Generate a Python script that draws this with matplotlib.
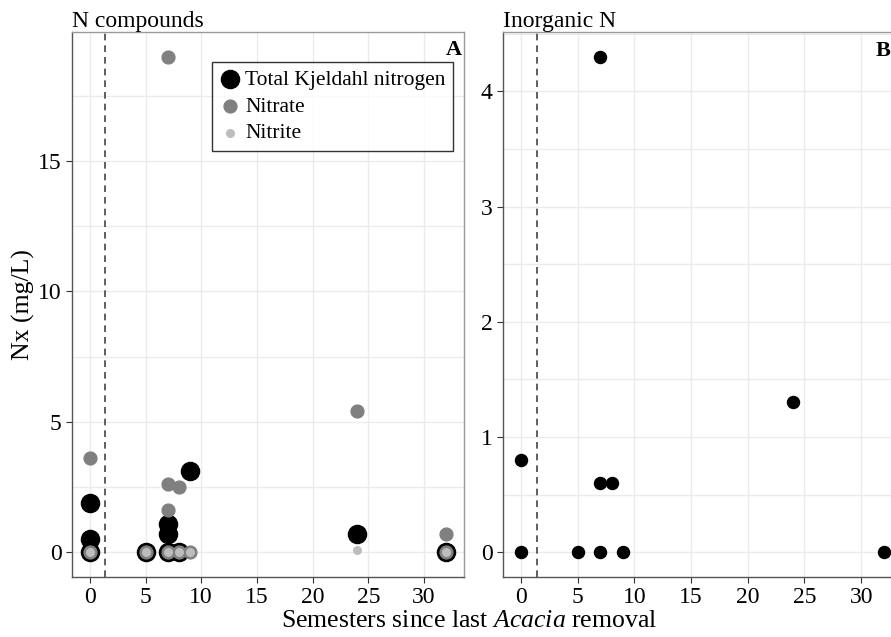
import matplotlib
matplotlib.use("Agg")
import matplotlib.pyplot as plt
from matplotlib.ticker import MultipleLocator

plt.rcParams['font.family'] = ['Liberation Serif', 'DejaVu Serif']
plt.rcParams['mathtext.fontset'] = 'custom'
plt.rcParams['mathtext.rm'] = 'Liberation Serif'
plt.rcParams['mathtext.it'] = 'Liberation Serif:italic'

# panel A: N compounds (x = semesters, y = mg/L)
tkn_x = [0, 0, 0, 5, 7, 7, 7, 8, 9, 24, 32]
tkn_y = [1.9, 0.5, 0, 0, 1.1, 0.7, 0, 0, 3.1, 0.7, 0]
nitrate_x = [0, 0, 5, 7, 7, 7, 7, 8, 8, 9, 24, 32, 32]
nitrate_y = [3.6, 0, 0, 19.0, 2.6, 1.6, 0, 2.5, 0, 0, 5.4, 0.7, 0]
nitrite_x = [0, 5, 7, 8, 9, 24, 32]
nitrite_y = [0, 0, 0, 0, 0, 0.1, 0]

# panel B: inorganic N
inorg_x = [0, 0, 5, 7, 7, 7, 8, 9, 24, 32]
inorg_y = [0.8, 0, 0, 4.3, 0.6, 0, 0.6, 0, 1.3, 0]

removal_line = 1.4


def style_panel(ax):
    ax.set_facecolor('white')
    ax.grid(True, which='both', color='#ebebeb', linewidth=1.0, zorder=0)
    ax.set_axisbelow(True)
    for side in ['top', 'right']:
        ax.spines[side].set_color('#9a9a9a')
    for side in ['left', 'bottom']:
        ax.spines[side].set_color('#555555')
    for s in ax.spines.values():
        s.set_linewidth(1.0)
    ax.tick_params(axis='both', labelsize=17, colors='#333333', length=4,
                   labelcolor='black')
    ax.tick_params(which='minor', length=0)
    ax.xaxis.set_major_locator(MultipleLocator(5))
    ax.xaxis.set_minor_locator(MultipleLocator(5))
    ax.set_xlim(-1.6, 33.6)
    ax.axvline(removal_line, color='#444444', linestyle=(0, (4, 3)), linewidth=1.2,
               zorder=1)


fig = plt.figure(figsize=(8.91, 6.37), dpi=100)
ax1 = fig.add_axes([0.0808, 0.0942, 0.44, 0.8556])
ax2 = fig.add_axes([0.5645, 0.0942, 0.4478, 0.8556])

# panel A
style_panel(ax1)
ax1.scatter(tkn_x, tkn_y, s=170, color='black', label='Total Kjeldahl nitrogen', zorder=3)
ax1.scatter(nitrate_x, nitrate_y, s=85, color='#808080', label='Nitrate', zorder=4)
ax1.scatter(nitrite_x, nitrite_y, s=30, color='#bdbdbd', label='Nitrite', zorder=5)
ax1.set_ylim(-0.95, 19.95)
ax1.yaxis.set_major_locator(MultipleLocator(5))
ax1.yaxis.set_minor_locator(MultipleLocator(2.5))
ax1.set_ylabel('Nx (mg/L)', fontsize=18.5, labelpad=2)
ax1.set_title('N compounds', loc='left', fontsize=17, pad=3)
ax1.text(0.995, 0.985, 'A', transform=ax1.transAxes, ha='right', va='top',
         fontsize=16, fontweight='bold')
leg = ax1.legend(loc='upper right', bbox_to_anchor=(0.972, 0.945), fontsize=15.5,
                 frameon=True, fancybox=False, handletextpad=0.2,
                 borderpad=0.35, labelspacing=0.32, handlelength=1.0,
                 borderaxespad=0)
leg.get_frame().set_edgecolor('black')
leg.get_frame().set_linewidth(1.0)

# panel B
style_panel(ax2)
ax2.scatter(inorg_x, inorg_y, s=75, color='black', zorder=3)
ax2.set_ylim(-0.215, 4.515)
ax2.yaxis.set_major_locator(MultipleLocator(1))
ax2.yaxis.set_minor_locator(MultipleLocator(0.5))
ax2.set_title('Inorganic N', loc='left', fontsize=17, pad=3)
fig.text(0.999, 0.935, 'B', ha='right', va='top', fontsize=16, fontweight='bold')

fig.text(0.527, 0.008, 'Semesters since last $\\mathit{Acacia}$ removal',
         ha='center', va='bottom', fontsize=18.5)

fig.savefig('out.png', dpi=100)
